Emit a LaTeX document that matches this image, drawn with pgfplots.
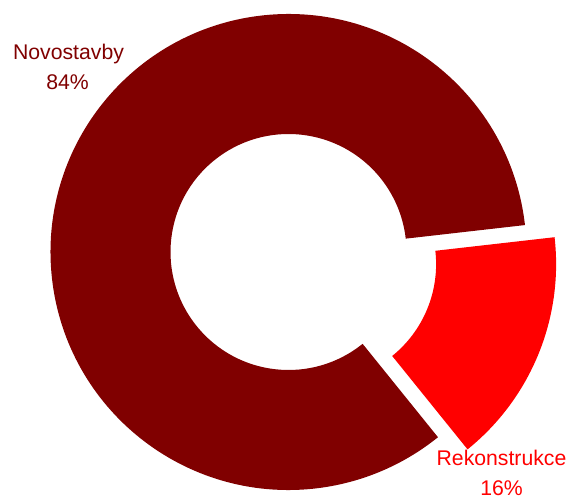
\documentclass[border=0pt]{standalone}
\usepackage{pgfplots}
\pgfplotsset{compat=1.18}
\usepackage{fontspec}
\setmainfont{Liberation Sans}
\definecolor{novo}{RGB}{128,0,0}
\definecolor{reko}{RGB}{255,0,0}
\begin{document}
\begin{tikzpicture}
\begin{axis}[
  scale only axis, width=568bp, height=496bp,
  xmin=0, xmax=568, ymin=0, ymax=496,
  axis lines=none, clip=false]
% keep the full canvas as the picture's extent
\path (axis cs:0,0) rectangle (axis cs:568,496);
% shares in percent
\def\vNovo{84}
\def\vReko{16}
% geometry: centre, outer and inner radius, explode offset
\def\cx{288.5}\def\cy{244}
\def\ro{238bp}\def\ri{118bp}
\pgfmathsetmacro\start{6.5}
\pgfmathsetmacro\aNovo{3.6*\vNovo}
\pgfmathsetmacro\aReko{3.6*\vReko}
\pgfmathsetmacro\eNovo{\start+\aNovo}
\pgfmathsetmacro\sReko{\start-\aReko}
\pgfmathsetmacro\mReko{\start-\aReko/2}
% Novostavby
\begin{scope}[shift={(axis cs:\cx,\cy)}]
  \fill[novo] (\start:\ro) arc[start angle=\start, end angle=\eNovo, radius=\ro]
    -- (\eNovo:\ri) arc[start angle=\eNovo, end angle=\start, radius=\ri] -- cycle;
\end{scope}
% Rekonstrukce, pulled out
\begin{scope}[shift={(axis cs:\cx,\cy)}, shift={(\mReko:32bp)}]
  \fill[reko] (\sReko:\ro) arc[start angle=\sReko, end angle=\start, radius=\ro]
    -- (\start:\ri) arc[start angle=\start, end angle=\sReko, radius=\ri] -- cycle;
\end{scope}
\begin{scope}[every node/.style={anchor=base, inner sep=0pt, font=\fontsize{21.3}{30}\selectfont}]
  \node[text=novo] at (axis cs:68.5,436) {Novostavby};
  \node[text=novo] at (axis cs:67.5,406) {84\%};
  \node[text=reko] at (axis cs:501.5,31) {Rekonstrukce};
  \node[text=reko] at (axis cs:501.5,1) {16\%};
\end{scope}
\end{axis}
\end{tikzpicture}
\end{document}
